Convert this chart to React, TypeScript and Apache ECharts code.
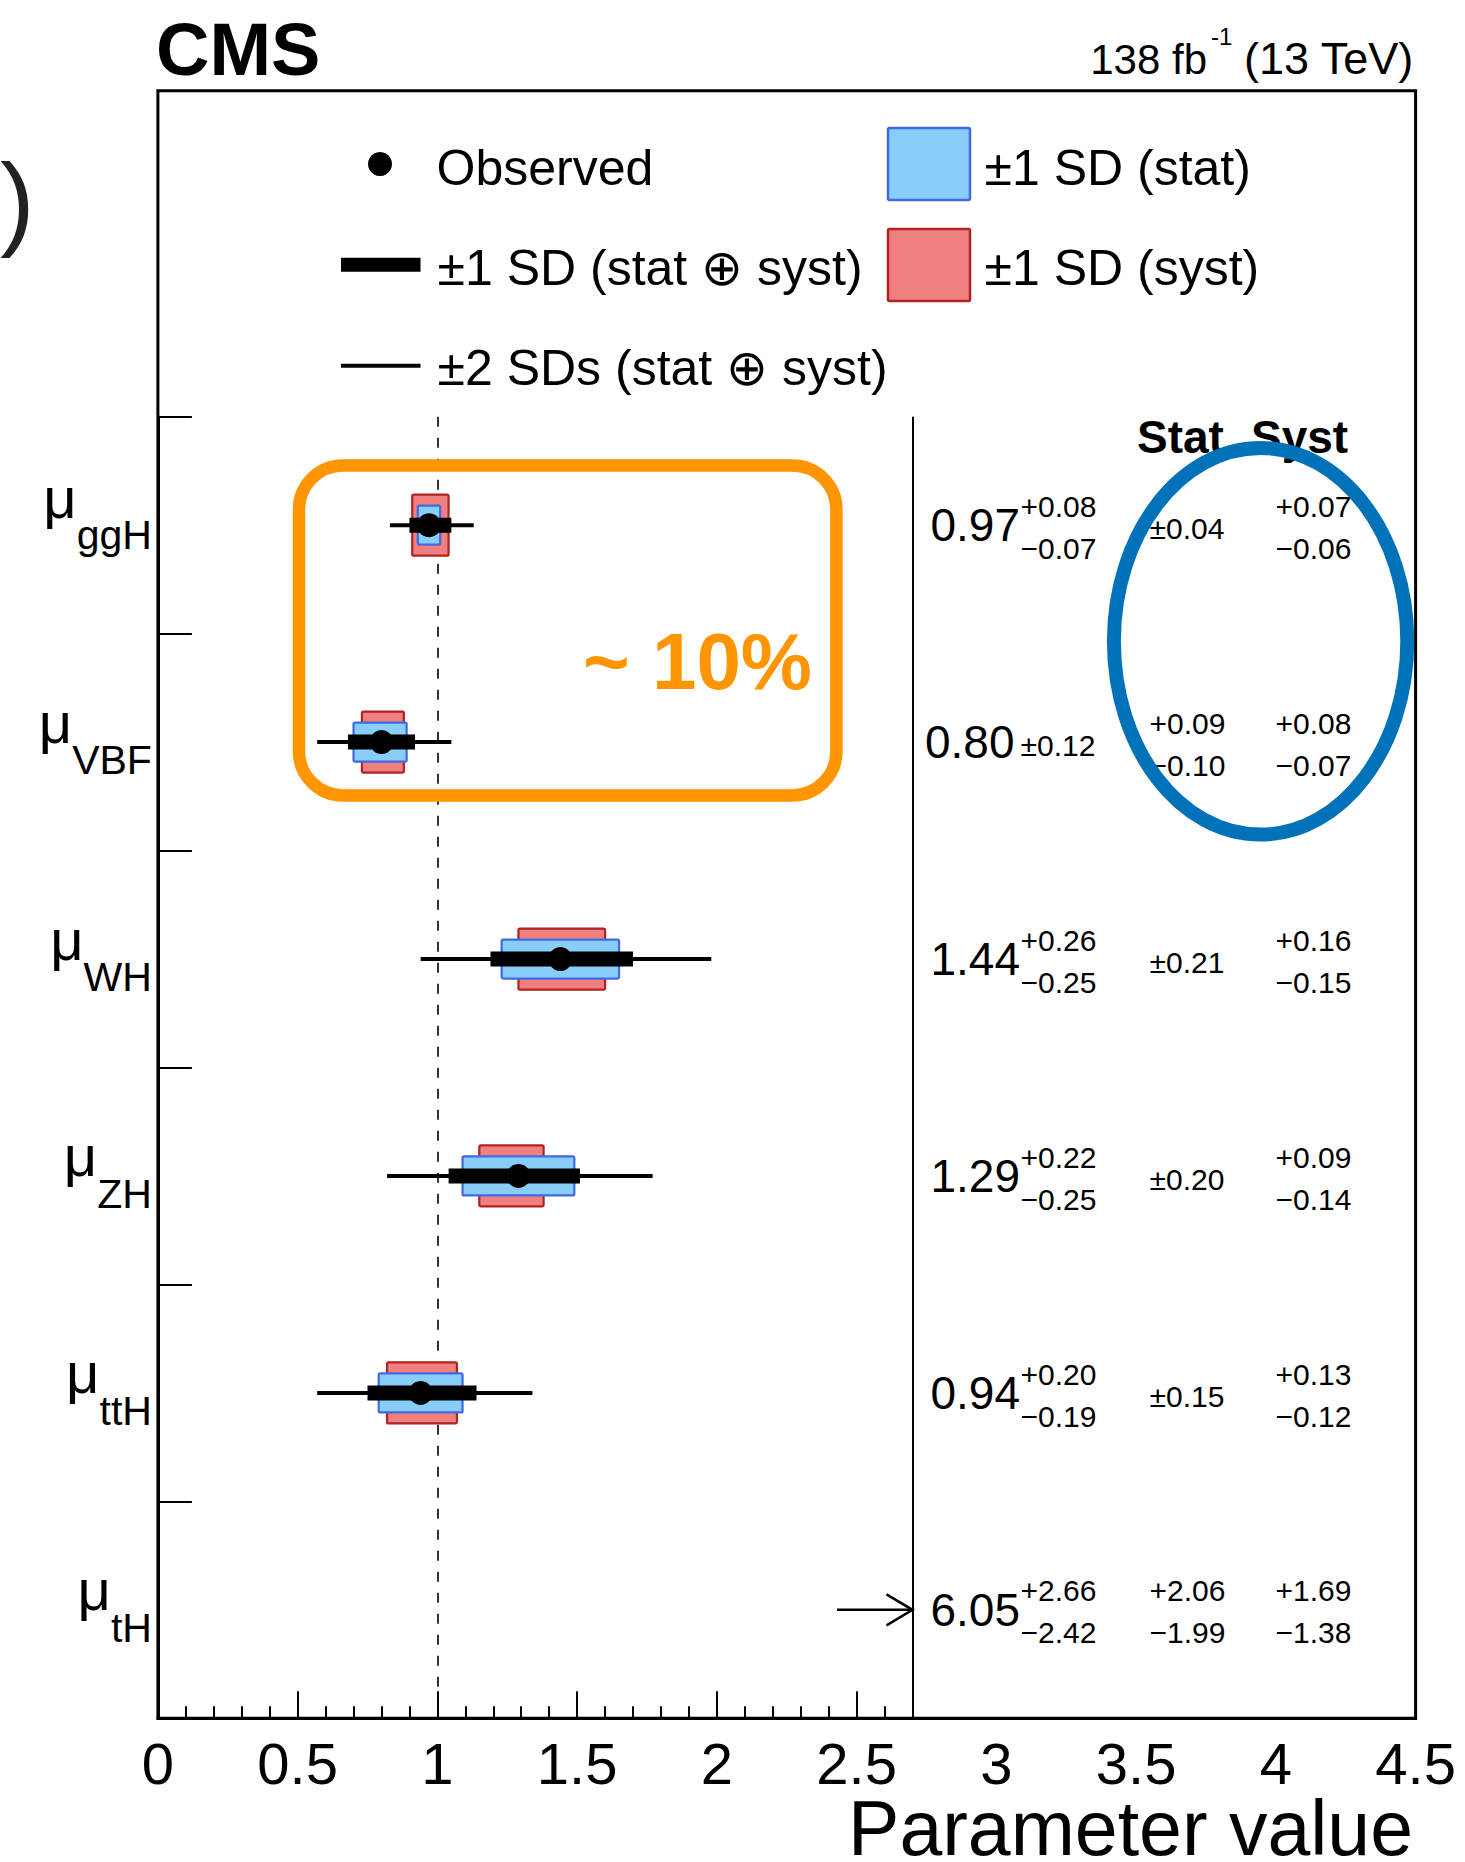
import React, { useEffect, useRef } from 'react';
import * as echarts from 'echarts';

// Signal-strength modifiers per production mode
const PARAMS = ['ggH', 'VBF', 'WH', 'ZH', 'ttH', 'tH'];
const BEST = [0.97, 0.8, 1.44, 1.29, 0.94, 6.05];
const TOTAL_UP = [0.08, 0.12, 0.26, 0.22, 0.2, 2.66];
const TOTAL_DOWN = [0.07, 0.12, 0.25, 0.25, 0.19, 2.42];
const STAT_UP = [0.04, 0.09, 0.21, 0.2, 0.15, 2.06];
const STAT_DOWN = [0.04, 0.1, 0.21, 0.2, 0.15, 1.99];
const SYST_UP = [0.07, 0.08, 0.16, 0.09, 0.13, 1.69];
const SYST_DOWN = [0.06, 0.07, 0.15, 0.14, 0.12, 1.38];
const TWO_SD_UP = [0.16, 0.25, 0.54, 0.48, 0.4, null];
const TWO_SD_DOWN = [0.14, 0.23, 0.5, 0.47, 0.37, null];

// Axis ticks
const X_MAX = 4.5;
const X_LABEL_STEP = 0.5;
const MAJOR_TICKS = [0, 0.5, 1, 1.5, 2, 2.5];
const MINOR_TICKS = [
  0.1, 0.2, 0.3, 0.4, 0.6, 0.7, 0.8, 0.9, 1.1, 1.2, 1.3, 1.4, 1.6, 1.7, 1.8,
  1.9, 2.1, 2.2, 2.3, 2.4, 2.6,
];
const SM_REFERENCE = 1;
const PANEL_MAX = 2.7; // right edge of the plotting panel, the table follows
const ARROW_FROM = 2.43; // start of the overflow arrow

// Layout
const W = 1465;
const H = 1862;
const PLOT_LEFT = 157.9;
const PLOT_RIGHT = 1415.6;
const ROWS_TOP = 416.7;
const AXIS_Y = 1718.3;
const FRAME_TOP = 90.8;

const FONT = "'Liberation Sans', Arial, Helvetica, sans-serif";
const CENTRAL = 0.3465; // central baseline above alphabetic, in em
const MINUS = '\u2212';

const ORANGE = '#FF9500';
const ELLIPSE_BLUE = '#0072BA';
const STAT_FILL = '#87CEFA';
const STAT_EDGE = '#4169E1';
const SYST_FILL = '#F08080';
const SYST_EDGE = '#B22222';

const fmt = (v: number) => v.toFixed(2);

function gText(
  text: string,
  x: number,
  baseline: number,
  fontSize: number,
  opt: { align?: string; weight?: string; color?: string; z?: number; lineHeight?: number } = {}
): any {
  const align = opt.align ?? 'left';
  const style: any = {
    text,
    fontSize,
    fontFamily: FONT,
    fontWeight: opt.weight ?? 'normal',
    fill: opt.color ?? '#000',
    align,
    textAlign: align,
    verticalAlign: 'middle',
    textVerticalAlign: 'middle',
  };
  if (opt.lineHeight) style.lineHeight = opt.lineHeight;
  return {
    type: 'text',
    x,
    y: baseline - CENTRAL * fontSize,
    z: opt.z ?? 50,
    silent: true,
    style,
  };
}

// Markers: syst band, stat band, 2 SD line, 1 SD bar, observed point
function renderMarker(_params: any, api: any) {
  const i = api.value(1);
  const best = api.value(0);
  const yc = api.coord([0, i])[1];
  const px = (v: number) => api.coord([v, i])[0];
  if (best > PANEL_MAX) {
    const x0 = px(ARROW_FROM);
    const x1 = px(PANEL_MAX);
    return {
      type: 'group',
      children: [
        { type: 'line', shape: { x1: x0, y1: yc, x2: x1, y2: yc }, style: { stroke: '#000', lineWidth: 2.5 } },
        {
          type: 'polyline',
          shape: { points: [[x1 - 26, yc - 15.5], [x1, yc], [x1 - 26, yc + 15.5]] },
          style: { stroke: '#000', lineWidth: 2.5, fill: null },
        },
      ],
    };
  }
  const totDn = api.value(2);
  const totUp = api.value(3);
  const statDn = api.value(4);
  const statUp = api.value(5);
  const systDn = api.value(6);
  const systUp = api.value(7);
  const twoDn = api.value(8);
  const twoUp = api.value(9);
  const box = (lo: number, hi: number, h: number, fill: string, stroke: string) => ({
    type: 'rect',
    shape: { x: px(lo), y: yc - h / 2, width: px(hi) - px(lo), height: h, r: 1.5 },
    style: { fill, stroke, lineWidth: 2.2 },
  });
  return {
    type: 'group',
    children: [
      box(best - systDn, best + systUp, 61, SYST_FILL, SYST_EDGE),
      box(best - statDn, best + statUp, 39, STAT_FILL, STAT_EDGE),
      {
        type: 'line',
        shape: { x1: px(best - twoDn), y1: yc, x2: px(best + twoUp), y2: yc },
        style: { stroke: '#000', lineWidth: 4 },
      },
      {
        type: 'rect',
        shape: { x: px(best - totDn), y: yc - 7.5, width: px(best + totUp) - px(best - totDn), height: 15 },
        style: { fill: '#000' },
      },
      { type: 'circle', shape: { cx: px(best), cy: yc, r: 12 }, style: { fill: '#000' } },
    ],
  };
}

const isSymmetric = (up: number, down: number) => Math.abs(up - down) < 1e-9;

function errorTexts(up: number, down: number, x: number, yc: number, fs: number): any[] {
  if (isSymmetric(up, down)) {
    return [gText('\u00b1' + fmt(up), x, yc + 14, fs)];
  }
  return [
    gText('+' + fmt(up), x, yc - 8.5, fs),
    gText(MINUS + fmt(down), x, yc + 33.5, fs),
  ];
}

// Result table to the right of the panel
function renderTable(_params: any, api: any) {
  const i = api.value(1);
  const yc = api.coord([0, i])[1];
  const xd = api.coord([PANEL_MAX, i])[0];
  const symTotal = isSymmetric(api.value(3), api.value(2));
  const children: any[] = [
    gText(fmt(api.value(0)), xd + (symTotal ? 102 : 107.5), yc + 16, 46, { align: 'right' }),
    ...errorTexts(api.value(3), api.value(2), xd + 108, yc, 30),
    ...errorTexts(api.value(5), api.value(4), xd + 237, yc, 30),
    ...errorTexts(api.value(7), api.value(6), xd + 363, yc, 30),
  ];
  return { type: 'group', children };
}

function buildOption(): any {
  const rows = PARAMS.map((_, i) => [
    BEST[i],
    i,
    TOTAL_DOWN[i],
    TOTAL_UP[i],
    STAT_DOWN[i],
    STAT_UP[i],
    SYST_DOWN[i],
    SYST_UP[i],
    TWO_SD_DOWN[i] ?? NaN,
    TWO_SD_UP[i] ?? NaN,
  ]);

  const graphic: any[] = [
    // frame
    {
      type: 'rect',
      z: 40,
      silent: true,
      shape: { x: PLOT_LEFT, y: FRAME_TOP, width: PLOT_RIGHT - PLOT_LEFT, height: AXIS_Y - FRAME_TOP },
      style: { fill: null, stroke: '#000', lineWidth: 3 },
    },
    gText(')', 0, 236, 104, { color: '#222' }),
    gText('CMS', 156, 75, 74, { weight: 'bold' }),
    gText('138 fb', 1207, 74, 42, { align: 'right' }),
    gText('-1', 1211, 45, 24),
    gText('(13 TeV)', 1244, 74, 45),
    // legend
    { type: 'circle', z: 50, silent: true, shape: { cx: 380, cy: 164, r: 12 }, style: { fill: '#000' } },
    gText('Observed', 436.5, 185, 50),
    {
      type: 'rect',
      z: 50,
      silent: true,
      shape: { x: 341, y: 257.7, width: 79.5, height: 14 },
      style: { fill: '#000' },
    },
    gText('\u00b11 SD (stat \u2295 syst)', 437.5, 285, 50),
    {
      type: 'line',
      z: 50,
      silent: true,
      shape: { x1: 341, y1: 365.7, x2: 420.5, y2: 365.7 },
      style: { stroke: '#000', lineWidth: 4 },
    },
    gText('\u00b12 SDs (stat \u2295 syst)', 437.5, 385, 50),
    {
      type: 'rect',
      z: 50,
      silent: true,
      shape: { x: 888, y: 128, width: 82, height: 72, r: 1.5 },
      style: { fill: STAT_FILL, stroke: STAT_EDGE, lineWidth: 2.5 },
    },
    gText('\u00b11 SD (stat)', 984.5, 185, 50),
    {
      type: 'rect',
      z: 50,
      silent: true,
      shape: { x: 888, y: 229, width: 82, height: 72, r: 1.5 },
      style: { fill: SYST_FILL, stroke: SYST_EDGE, lineWidth: 2.5 },
    },
    gText('\u00b11 SD (syst)', 984.5, 285, 50),
    // table header
    gText('Stat', 1137, 452.7, 46, { weight: 'bold' }),
    gText('Syst', 1251, 452.7, 46, { weight: 'bold' }),
    // axis title
    gText('Parameter value', 1413, 1855, 77, { align: 'right', lineHeight: 58 }),
    // annotations
    {
      type: 'rect',
      z: 100,
      silent: true,
      shape: { x: 299, y: 465.5, width: 537.4, height: 329.9, r: 44 },
      style: { fill: null, stroke: ORANGE, lineWidth: 12.5 },
    },
    gText('~ 10%', 812, 689.3, 80, { align: 'right', weight: 'bold', color: ORANGE, z: 100 }),
    {
      type: 'ellipse',
      z: 100,
      silent: true,
      shape: { cx: 1260.6, cy: 641.3, rx: 146.7, ry: 193.3 },
      style: { fill: null, stroke: ELLIPSE_BLUE, lineWidth: 14 },
    },
  ];

  return {
    animation: false,
    backgroundColor: '#fff',
    textStyle: { fontFamily: FONT },
    grid: {
      left: PLOT_LEFT,
      right: W - PLOT_RIGHT,
      top: ROWS_TOP,
      bottom: H - AXIS_Y,
      containLabel: false,
      outerBoundsMode: 'none',
    },
    xAxis: [
      {
        type: 'value',
        min: 0,
        max: X_MAX,
        interval: X_LABEL_STEP,
        position: 'bottom',
        axisLine: { show: true, lineStyle: { color: '#000', width: 3 } },
        axisTick: {
          show: true,
          inside: true,
          length: 27,
          customValues: MAJOR_TICKS,
          lineStyle: { color: '#000', width: 2 },
        },
        axisLabel: {
          show: true,
          margin: 20,
          fontSize: 58,
          lineHeight: 50,
          color: '#000',
          fontFamily: FONT,
          showMinLabel: true,
          showMaxLabel: true,
        },
        splitLine: { show: false },
      },
      {
        type: 'value',
        min: 0,
        max: X_MAX,
        position: 'bottom',
        axisLine: { show: false },
        axisTick: {
          show: true,
          inside: true,
          length: 12,
          customValues: MINOR_TICKS,
          lineStyle: { color: '#000', width: 2 },
        },
        axisLabel: { show: false },
        splitLine: { show: false },
      },
    ],
    yAxis: {
      type: 'category',
      data: PARAMS,
      inverse: true,
      boundaryGap: true,
      axisLine: { show: true, lineStyle: { color: '#000', width: 3 } },
      axisTick: {
        show: true,
        inside: true,
        length: 34,
        interval: 0,
        alignWithLabel: false,
        lineStyle: { color: '#000', width: 2 },
      },
      axisLabel: {
        margin: 6,
        color: '#000',
        fontFamily: FONT,
        formatter: (v: string) => (v === 'ggH' ? `{muHi|\u03bc}{subHi|${v}}` : `{mu|\u03bc}{sub|${v}}`),
        rich: {
          mu: { fontSize: 58, fontFamily: FONT, color: '#000', padding: [0, 0, 40, 0] },
          sub: { fontSize: 41, fontFamily: FONT, color: '#000', padding: [36, 0, 0, 0] },
          muHi: { fontSize: 58, fontFamily: FONT, color: '#000', padding: [0, 0, 56, 0] },
          subHi: { fontSize: 41, fontFamily: FONT, color: '#000', padding: [20, 0, 0, 0] },
        },
      },
      splitLine: { show: false },
    },
    series: [
      {
        type: 'line',
        data: [],
        silent: true,
        z: 1,
        markLine: {
          z: 1,
          silent: true,
          symbol: 'none',
          label: { show: false },
          animation: false,
          data: [
            { xAxis: SM_REFERENCE, lineStyle: { color: '#000', width: 1.6, type: [10, 11] } },
            { xAxis: PANEL_MAX, lineStyle: { color: '#000', width: 2, type: 'solid' } },
          ],
        },
      },
      {
        type: 'custom',
        name: 'markers',
        silent: true,
        z: 3,
        encode: { x: 0, y: 1 },
        renderItem: renderMarker,
        data: rows,
      },
      {
        type: 'custom',
        name: 'table',
        silent: true,
        z: 3,
        clip: false,
        encode: { x: 0, y: 1 },
        renderItem: renderTable,
        data: rows,
      },
    ],
    graphic,
  };
}

export default function App() {
  const ref = useRef<HTMLDivElement>(null);
  useEffect(() => {
    if (!ref.current) return;
    const chart = echarts.init(ref.current, null, { renderer: 'svg' });
    chart.setOption(buildOption());
    return () => chart.dispose();
  }, []);
  return (
    <div
      ref={ref}
      style={{ position: 'absolute', left: 0, top: 0, width: W, height: H, background: '#fff' }}
    />
  );
}
